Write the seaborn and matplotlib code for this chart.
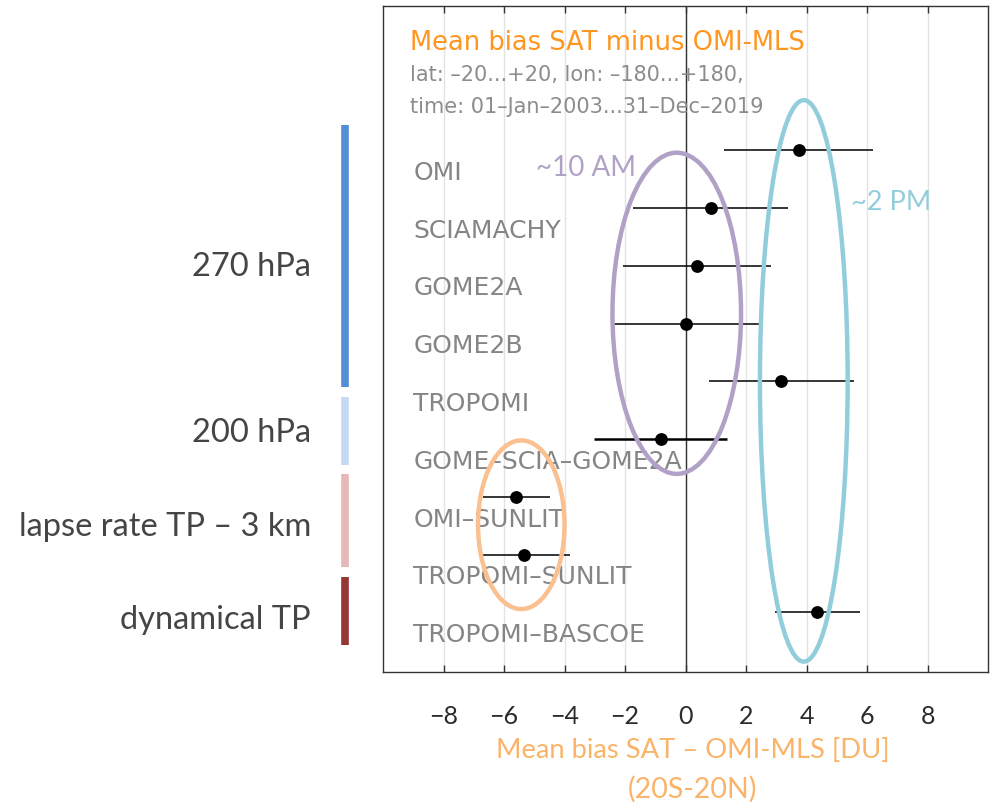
import matplotlib
matplotlib.use("Agg")
import matplotlib.pyplot as plt
import matplotlib.transforms as mtransforms
from matplotlib.patches import Ellipse
import pandas as pd
import seaborn as sns

# ---- data ----
products = ["OMI", "SCIAMACHY", "GOME2A", "GOME2B", "TROPOMI",
            "GOME-SCIA-GOME2A", "OMI-SUNLIT", "TROPOMI-SUNLIT", "TROPOMI-BASCOE"]
bias = [3.74, 0.83, 0.37, 0.00, 3.16, -0.82, -5.59, -5.33, 4.36]
err = [2.47, 2.57, 2.44, 2.42, 2.40, 2.20, 1.12, 1.50, 1.40]

group_labels = ["270 hPa", "200 hPa", "lapse rate TP \u2013 3 km", "dynamical TP"]
group_colors = ["#558ED5", "#C6D9F1", "#E6B9B8", "#953735"]
# extent of each side bar and label position, in row units
group_start = [-0.44, 4.27, 5.60, 7.38]
group_end = [4.10, 5.44, 7.21, 8.56]
group_label_y = [2.02, 4.89, 6.52, 8.13]

x_ticks = [-8, -6, -4, -2, 0, 2, 4, 6, 8]

df = pd.DataFrame({"product": products, "bias": bias, "err": err})
df["row"] = range(len(df))

sns.set_theme(style="white")
plt.rcParams["font.family"] = ["DejaVu Sans"]
ppt_font = ["Lato", "DejaVu Sans"]

fig = plt.figure(figsize=(9.9, 8.11), dpi=100)
ax = fig.add_axes([0.3869, 0.1714, 0.6111, 0.8212])

ax.set_xlim(-10, 10)
ax.set_ylim(9.03, -2.5)
ax.set_xticks(x_ticks)
ax.set_xticklabels([f"\u2212{abs(t)}" if t < 0 else str(t) for t in x_ticks],
                   fontsize=18, family=ppt_font, color="#2b2b2b")
ax.set_yticks([])
ax.tick_params(axis="x", direction="in", top=True, bottom=True, length=5,
               width=1, color="#333333", pad=24)
for s in ax.spines.values():
    s.set_color("#333333")
    s.set_linewidth(1)
ax.grid(axis="x", color="#e3e3e3", lw=1)
ax.grid(axis="y", visible=False)
ax.axvline(0, color="#333333", lw=1, zorder=1.5)

# error bars and points
lws = [1.1] * len(df)
lws[5] = 1.8
ax.hlines(df["row"], df["bias"] - df["err"], df["bias"] + df["err"],
          color="black", lw=lws, zorder=3)
sns.scatterplot(data=df, x="bias", y="row", color="black", s=85,
                edgecolor="black", linewidth=0, zorder=4, ax=ax, legend=False)
ax.set_xlabel("")
ax.set_ylabel("")

# product names (MATLAB draws the hyphens as dashes)
for _, r in df.iterrows():
    ax.text(-9.0, r["row"] + 0.39, r["product"].replace("-", "\u2013"),
            color="#858585", fontsize=18, ha="left", va="center", zorder=2)

# title block inside the axes
ax.text(-9.1, -1.86, "Mean bias SAT minus OMI-MLS", color="#FF961F", fontsize=18.5,
        ha="left", va="center")
ax.text(-9.1, -1.30, "lat: \u201320...+20, lon: \u2013180...+180,", color="#8c8c8c",
        fontsize=15, ha="left", va="center")
ax.text(-9.1, -0.75, "time: 01\u2013Jan\u20132003...31\u2013Dec\u20132019", color="#8c8c8c",
        fontsize=15, ha="left", va="center")

# local-time groups
ellipses = [((-0.29, 2.82), 4.25, 5.56, "#B2A1C7"),
            ((3.91, 3.99), 2.90, 9.72, "#92CDDC"),
            ((-5.43, 6.48), 2.86, 2.92, "#FAC090")]
for center, w, h, c in ellipses:
    ax.add_patch(Ellipse(center, w, h, fill=False, edgecolor=c, lw=3.2, zorder=5))
ax.text(-3.29, 0.31, "~10 AM", color="#B2A1C7", fontsize=20,
        family=ppt_font, ha="center", va="center")
ax.text(6.80, 0.91, "~2 PM", color="#92CDDC", fontsize=19.5,
        family=ppt_font, ha="center", va="center")

# pressure-level group bars on the left
trans = mtransforms.blended_transform_factory(ax.transAxes, ax.transData)
for lab, c, y0, y1, ly in zip(group_labels, group_colors, group_start,
                              group_end, group_label_y):
    ax.plot([-0.0628, -0.0628], [y0, y1], color=c, lw=5.5,
            solid_capstyle="butt", transform=trans, clip_on=False)
    ax.text(-0.119, ly, lab, color="#454545", fontsize=23.5,
            family=ppt_font, ha="right", va="center",
            transform=trans, clip_on=False)

fig.text(0.6995, 0.075, "Mean bias SAT \u2013 OMI-MLS [DU]", color="#FAB46A",
         fontsize=19.7, family=ppt_font, ha="center", va="center")
fig.text(0.6995, 0.027, "(20S-20N)", color="#FAB46A", fontsize=20.5,
         family=ppt_font, ha="center", va="center")

fig.savefig("out.png", dpi=100)
